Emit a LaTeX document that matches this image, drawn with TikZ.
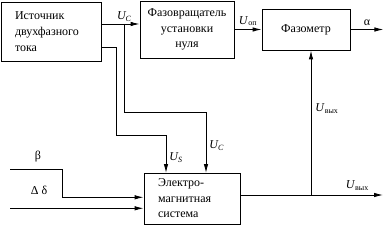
\documentclass[tikz,border=0pt]{standalone}
\usepackage{fontspec}
\setmainfont{Liberation Serif}
\usetikzlibrary{arrows.meta,calc}

\tikzset{
  block/.style={draw, line width=0.9pt, inner sep=0pt, align=center,
    font=\fontsize{12}{15.5}\selectfont},
  leftblock/.style={block, align=left, inner xsep=14pt},
  sig/.style={line width=0.9pt, -{Latex[length=9pt,width=4.5pt]}},
  wire/.style={line width=0.9pt},
  lbl/.style={font=\fontsize{12}{14}\selectfont, inner sep=1pt}
}

\begin{document}
\begin{tikzpicture}[x=1pt, y=-1pt]
    \useasboundingbox (0,0) rectangle (387,227);
    % blocks
    \node[leftblock, text width=72pt, minimum height=59pt,
      font=\fontsize{12}{16}\selectfont] (src) at (51,31.5)
      {Источник\\двухфазного\\тока};
    \node[block, minimum width=94pt, minimum height=57pt] (shifter) at (187,29.5)
      {Фазовращатель\\установки\\нуля};
    \node[block, minimum width=88pt, minimum height=41pt] (meter) at (306,29.5) {Фазометр};
    \node[leftblock, text width=68pt, minimum height=51pt] (ems) at (192,198.5)
      {Электро-\\магнитная\\система};
    % source outputs
    \coordinate (uc) at (124,24);
    \coordinate (src-b) at (116,47);
    \draw[sig] (src.east |- uc) -- (shifter.west |- uc)
      node[lbl, pos=0.6, above=1pt] {\textit{U\textsubscript{C}}};
    \draw[sig] (uc) -- (124,112) -- (206,112) -- (206,173)
      node[lbl, pos=0.55, right=2pt] {\textit{U\textsubscript{C}}};
    \draw[sig] (src.east |- src-b) -- (src-b) -- (116,135) -- (166,135) -- (166,173)
      node[lbl, pos=0.6, right=2pt] {\textit{U\textsubscript{S}}};
    % shifter to meter
    \draw[sig] (shifter.east) -- (meter.west)
      node[lbl, midway, above=2pt] {\textit{U}\textsubscript{оп}};
    \draw[sig] (meter.east) -- ++(33,0) node[lbl, midway, above=2pt] {α};
    % inputs of the system
    \draw[sig] (10,169) -- (62,169) -- (62,197.3) -- (ems.west |- 0,197.3);
    \node[lbl] (beta) at (38,157) {β};
    \draw[sig] (10,208.3) -- (ems.west |- 0,208.3);
    \node[lbl] (delta) at (39,190) {Δ δ};
    % output
    \coordinate (out) at (311,195);
    \draw[sig] (ems.east |- out) -- (383,195)
      node[lbl, pos=0.82, above=3pt] {\textit{U}\textsubscript{вых}};
    \draw[sig] (out) -- (meter.south -| out)
      node[lbl, pos=0.6, right=3pt] {\textit{U}\textsubscript{вых}};
\end{tikzpicture}
\end{document}
